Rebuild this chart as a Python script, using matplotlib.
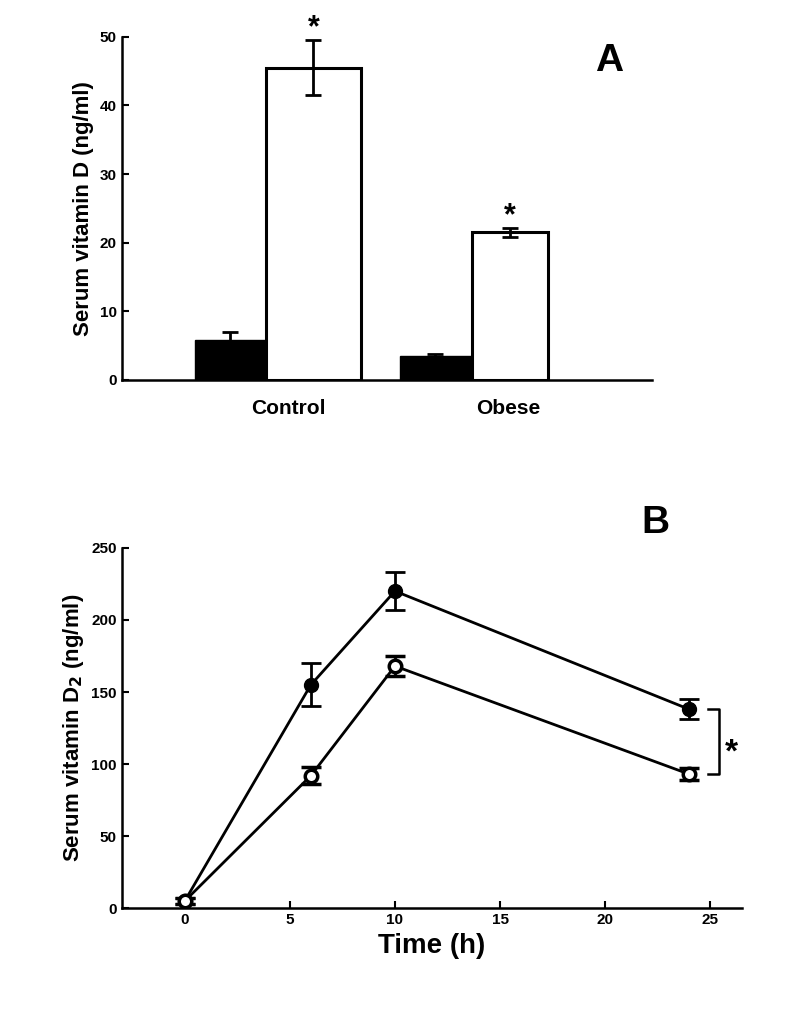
import matplotlib
matplotlib.use("Agg")
import matplotlib.pyplot as plt

plt.rcParams['font.family'] = ['Liberation Sans', 'DejaVu Sans']
plt.rcParams['font.weight'] = 'bold'

# Panel A data
groups = ["Control", "Obese"]
before = [5.8, 3.5]
before_err = [1.2, 0.3]
after = [45.5, 21.5]
after_err = [4.0, 0.6]

# Panel B data
time_h = [0, 6, 10, 24]
obese_like = [5, 92, 168, 93]       # open circles
obese_err = [2, 6, 7, 4]
control_like = [5, 155, 220, 138]   # filled circles
control_err = [2, 15, 13, 7]

fig = plt.figure(figsize=(7.85, 10.24), dpi=100)

# ---------- Panel A ----------
axA = fig.add_axes([0.155, 0.629, 0.675, 0.335])
black_pos = [0.205, 0.592]
white_pos = [0.362, 0.733]
bw_black = 0.135
bw_white = [0.18, 0.142]
for i in range(len(groups)):
    axA.bar(black_pos[i], before[i], width=bw_black, color='black', edgecolor='black',
            yerr=before_err[i], error_kw=dict(ecolor='black', capsize=6, capthick=2, lw=2))
    axA.bar(white_pos[i], after[i], width=bw_white[i], color='white', edgecolor='black',
            linewidth=2.2, yerr=after_err[i],
            error_kw=dict(ecolor='black', capsize=6, capthick=2, lw=2))
    axA.text(white_pos[i], after[i] + after_err[i] - 0.5, "*", ha='center',
             va='bottom', fontsize=22, fontweight='bold')
axA.set_xlim(0, 1)
axA.set_ylim(0, 50)
axA.set_yticks([0, 10, 20, 30, 40, 50])
axA.set_xticks([0.315, 0.73])
axA.set_xticklabels(groups, fontsize=15, fontweight='bold')
axA.tick_params(axis='x', length=0, pad=14)
axA.tick_params(axis='y', direction='in', length=5, width=1.5, labelsize=11)
axA.set_ylabel("Serum vitamin D (ng/ml)", fontsize=16, fontweight='bold')
for s in ['top', 'right']:
    axA.spines[s].set_visible(False)
for s in ['left', 'bottom']:
    axA.spines[s].set_linewidth(1.8)
axA.text(0.92, 0.93, "A", transform=axA.transAxes, fontsize=28, fontweight='bold',
         ha='center', va='center')

# ---------- Panel B ----------
axB = fig.add_axes([0.155, 0.113, 0.79, 0.352])
axB.errorbar(time_h, control_like, yerr=control_err, fmt='-o', color='black',
             markersize=10, mfc='black', mec='black', lw=2, capsize=7, capthick=2, elinewidth=2)
axB.errorbar(time_h, obese_like, yerr=obese_err, fmt='-o', color='black',
             markersize=9, mfc='white', mec='black', mew=2.5, lw=2, capsize=7, capthick=2,
             elinewidth=2)
axB.set_xlim(-3, 26.5)
axB.set_ylim(0, 250)
axB.set_xticks([0, 5, 10, 15, 20, 25])
axB.set_yticks([0, 50, 100, 150, 200, 250])
axB.tick_params(direction='in', length=5, width=1.5, labelsize=11)
axB.set_xlabel("Time (h)", fontsize=20, fontweight='bold')
axB.set_ylabel("Serum vitamin D$_\\mathbf{2}$ (ng/ml)", fontsize=16, fontweight='bold')
for s in ['top', 'right']:
    axB.spines[s].set_visible(False)
for s in ['left', 'bottom']:
    axB.spines[s].set_linewidth(1.8)
# significance bracket
axB.plot([24.9, 25.4, 25.4, 24.9], [control_like[3], control_like[3], obese_like[3], obese_like[3]],
         color='black', lw=1.8, clip_on=False)
axB.text(26.0, (control_like[3] + obese_like[3]) / 2 - 8, "*", fontsize=24, fontweight='bold',
         ha='center', va='center')
axB.text(0.86, 1.07, "B", transform=axB.transAxes, fontsize=28, fontweight='bold',
         ha='center', va='center')

fig.savefig("out.png", dpi=100)
